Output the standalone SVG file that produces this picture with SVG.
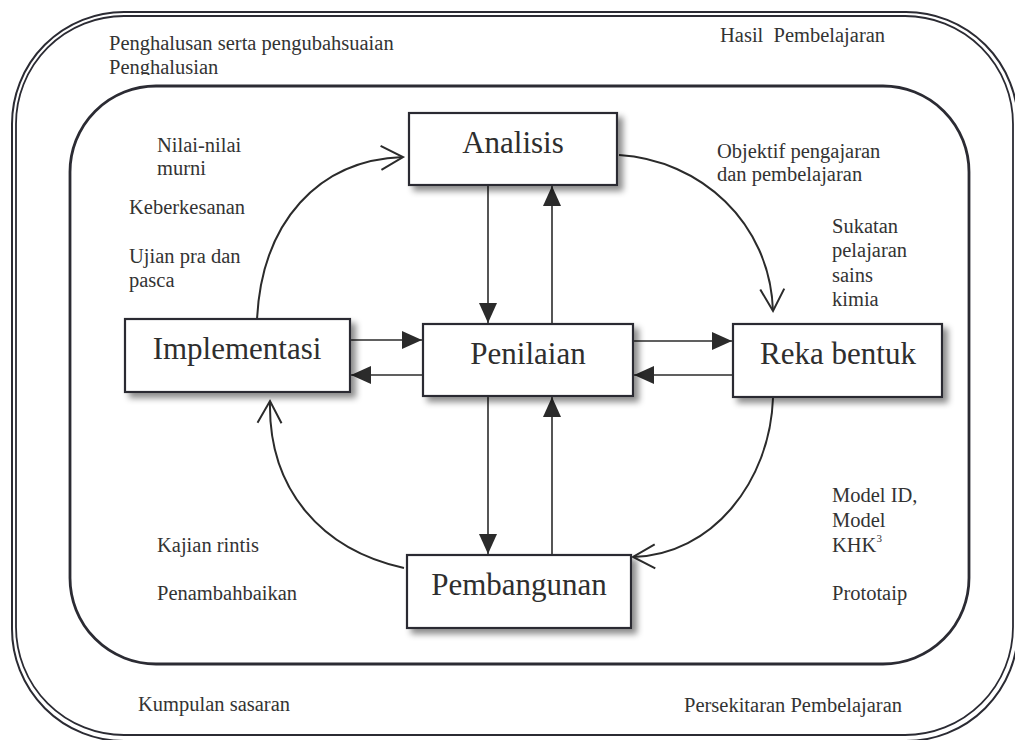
<svg xmlns="http://www.w3.org/2000/svg" width="1015" height="740" viewBox="0 0 1015 740">
<style>
.frame{fill:none;stroke:#2b2b33;}
.box{fill:#ffffff;stroke:#2b2b33;stroke-width:2.2;}
.nl{font-family:"Liberation Serif","Times New Roman",serif;font-size:31px;fill:#2e2e2e;text-anchor:middle;}
.lb{font-family:"Liberation Serif","Times New Roman",serif;font-size:20.5px;fill:#333333;}
.ln{fill:none;stroke:#2b2b2b;stroke-width:1.6;}
.cv{fill:none;stroke:#2b2b2b;stroke-width:2;}
</style>
<defs>
<filter id="sh" x="-10%" y="-20%" width="130%" height="160%">
<feDropShadow dx="5" dy="5" stdDeviation="3" flood-color="#000000" flood-opacity="0.45"/>
</filter>
<marker id="fa" markerUnits="userSpaceOnUse" markerWidth="20" markerHeight="18" refX="20" refY="9" orient="auto">
<path d="M0,0 L20,9 L0,18 z" fill="#2b2b2b"/>
</marker>
<marker id="oa" markerUnits="userSpaceOnUse" markerWidth="26" markerHeight="28" refX="23" refY="14" orient="auto">
<path d="M1,2 L23,14 L1,26" fill="none" stroke="#2b2b2b" stroke-width="2"/>
</marker>
<clipPath id="clip2"><rect x="0" y="0" width="500" height="75"/></clipPath>
</defs>
<rect width="1015" height="740" fill="#ffffff"/>
<g id="outer-frame">
<rect class="frame" x="12" y="12" width="1006" height="729" rx="112" ry="112" stroke-width="2"/>
<rect class="frame" x="16" y="16" width="997" height="719" rx="108" ry="108" stroke-width="1.8"/>
</g>
<g id="inner-frame">
<rect class="frame" x="70" y="86" width="899" height="578" rx="86" ry="86" stroke-width="2.8"/>
</g>
<g id="labels">
<text class="lb" x="109" y="50">Penghalusan serta pengubahsuaian</text>
<text class="lb" x="109" y="74" clip-path="url(#clip2)">Penghalusian</text>
<text class="lb" x="720" y="42" style="white-space:pre">Hasil  Pembelajaran</text>
<text class="lb" x="157" y="152">Nilai-nilai</text>
<text class="lb" x="157" y="175">murni</text>
<text class="lb" x="129" y="214">Keberkesanan</text>
<text class="lb" x="129" y="263">Ujian pra dan</text>
<text class="lb" x="129" y="287">pasca</text>
<text class="lb" x="717" y="158">Objektif pengajaran</text>
<text class="lb" x="717" y="181">dan pembelajaran</text>
<text class="lb" x="832" y="233">Sukatan</text>
<text class="lb" x="832" y="257">pelajaran</text>
<text class="lb" x="832" y="282">sains</text>
<text class="lb" x="832" y="306">kimia</text>
<text class="lb" x="157" y="552">Kajian rintis</text>
<text class="lb" x="157" y="600">Penambahbaikan</text>
<text class="lb" x="832" y="502">Model ID,</text>
<text class="lb" x="832" y="527">Model</text>
<text class="lb" x="832" y="552">KHK<tspan font-size="11" dy="-10">3</tspan></text>
<text class="lb" x="832" y="600">Prototaip</text>
<text class="lb" x="138" y="711">Kumpulan sasaran</text>
<text class="lb" x="684" y="712">Persekitaran Pembelajaran</text>
</g>
<g id="connectors">
<line class="ln" x1="488" y1="186" x2="488" y2="323" marker-end="url(#fa)"/>
<line class="ln" x1="552" y1="323" x2="552" y2="186" marker-end="url(#fa)"/>
<line class="ln" x1="488" y1="397" x2="488" y2="554" marker-end="url(#fa)"/>
<line class="ln" x1="552" y1="554" x2="552" y2="397" marker-end="url(#fa)"/>
<line class="ln" x1="351" y1="340" x2="422" y2="340" marker-end="url(#fa)"/>
<line class="ln" x1="422" y1="375" x2="351" y2="375" marker-end="url(#fa)"/>
<line class="ln" x1="634" y1="341" x2="732" y2="341" marker-end="url(#fa)"/>
<line class="ln" x1="732" y1="375" x2="634" y2="375" marker-end="url(#fa)"/>
<path class="cv" d="M257,319 C262,222 318,160 403,157" marker-end="url(#oa)"/>
<path class="cv" d="M619,155 C700,160 770,222 773,311" marker-end="url(#oa)"/>
<path class="cv" d="M773,398 C770,482 712,555 633,557" marker-end="url(#oa)"/>
<path class="cv" d="M404,568 C322,550 268,490 270,401" marker-end="url(#oa)"/>
</g>
<g id="node-analisis">
<rect class="box" x="409" y="113" width="208" height="72" filter="url(#sh)"/>
<text class="nl" x="513" y="153">Analisis</text>
</g>
<g id="node-implementasi">
<rect class="box" x="125" y="319" width="225" height="73" filter="url(#sh)"/>
<text class="nl" x="237" y="359">Implementasi</text>
</g>
<g id="node-penilaian">
<rect class="box" x="423" y="324" width="210" height="72" filter="url(#sh)"/>
<text class="nl" x="528" y="364">Penilaian</text>
</g>
<g id="node-reka-bentuk">
<rect class="box" x="733" y="324" width="209" height="73" filter="url(#sh)"/>
<text class="nl" x="838" y="364">Reka bentuk</text>
</g>
<g id="node-pembangunan">
<rect class="box" x="407" y="555" width="224" height="73" filter="url(#sh)"/>
<text class="nl" x="519" y="595">Pembangunan</text>
</g>
</svg>
